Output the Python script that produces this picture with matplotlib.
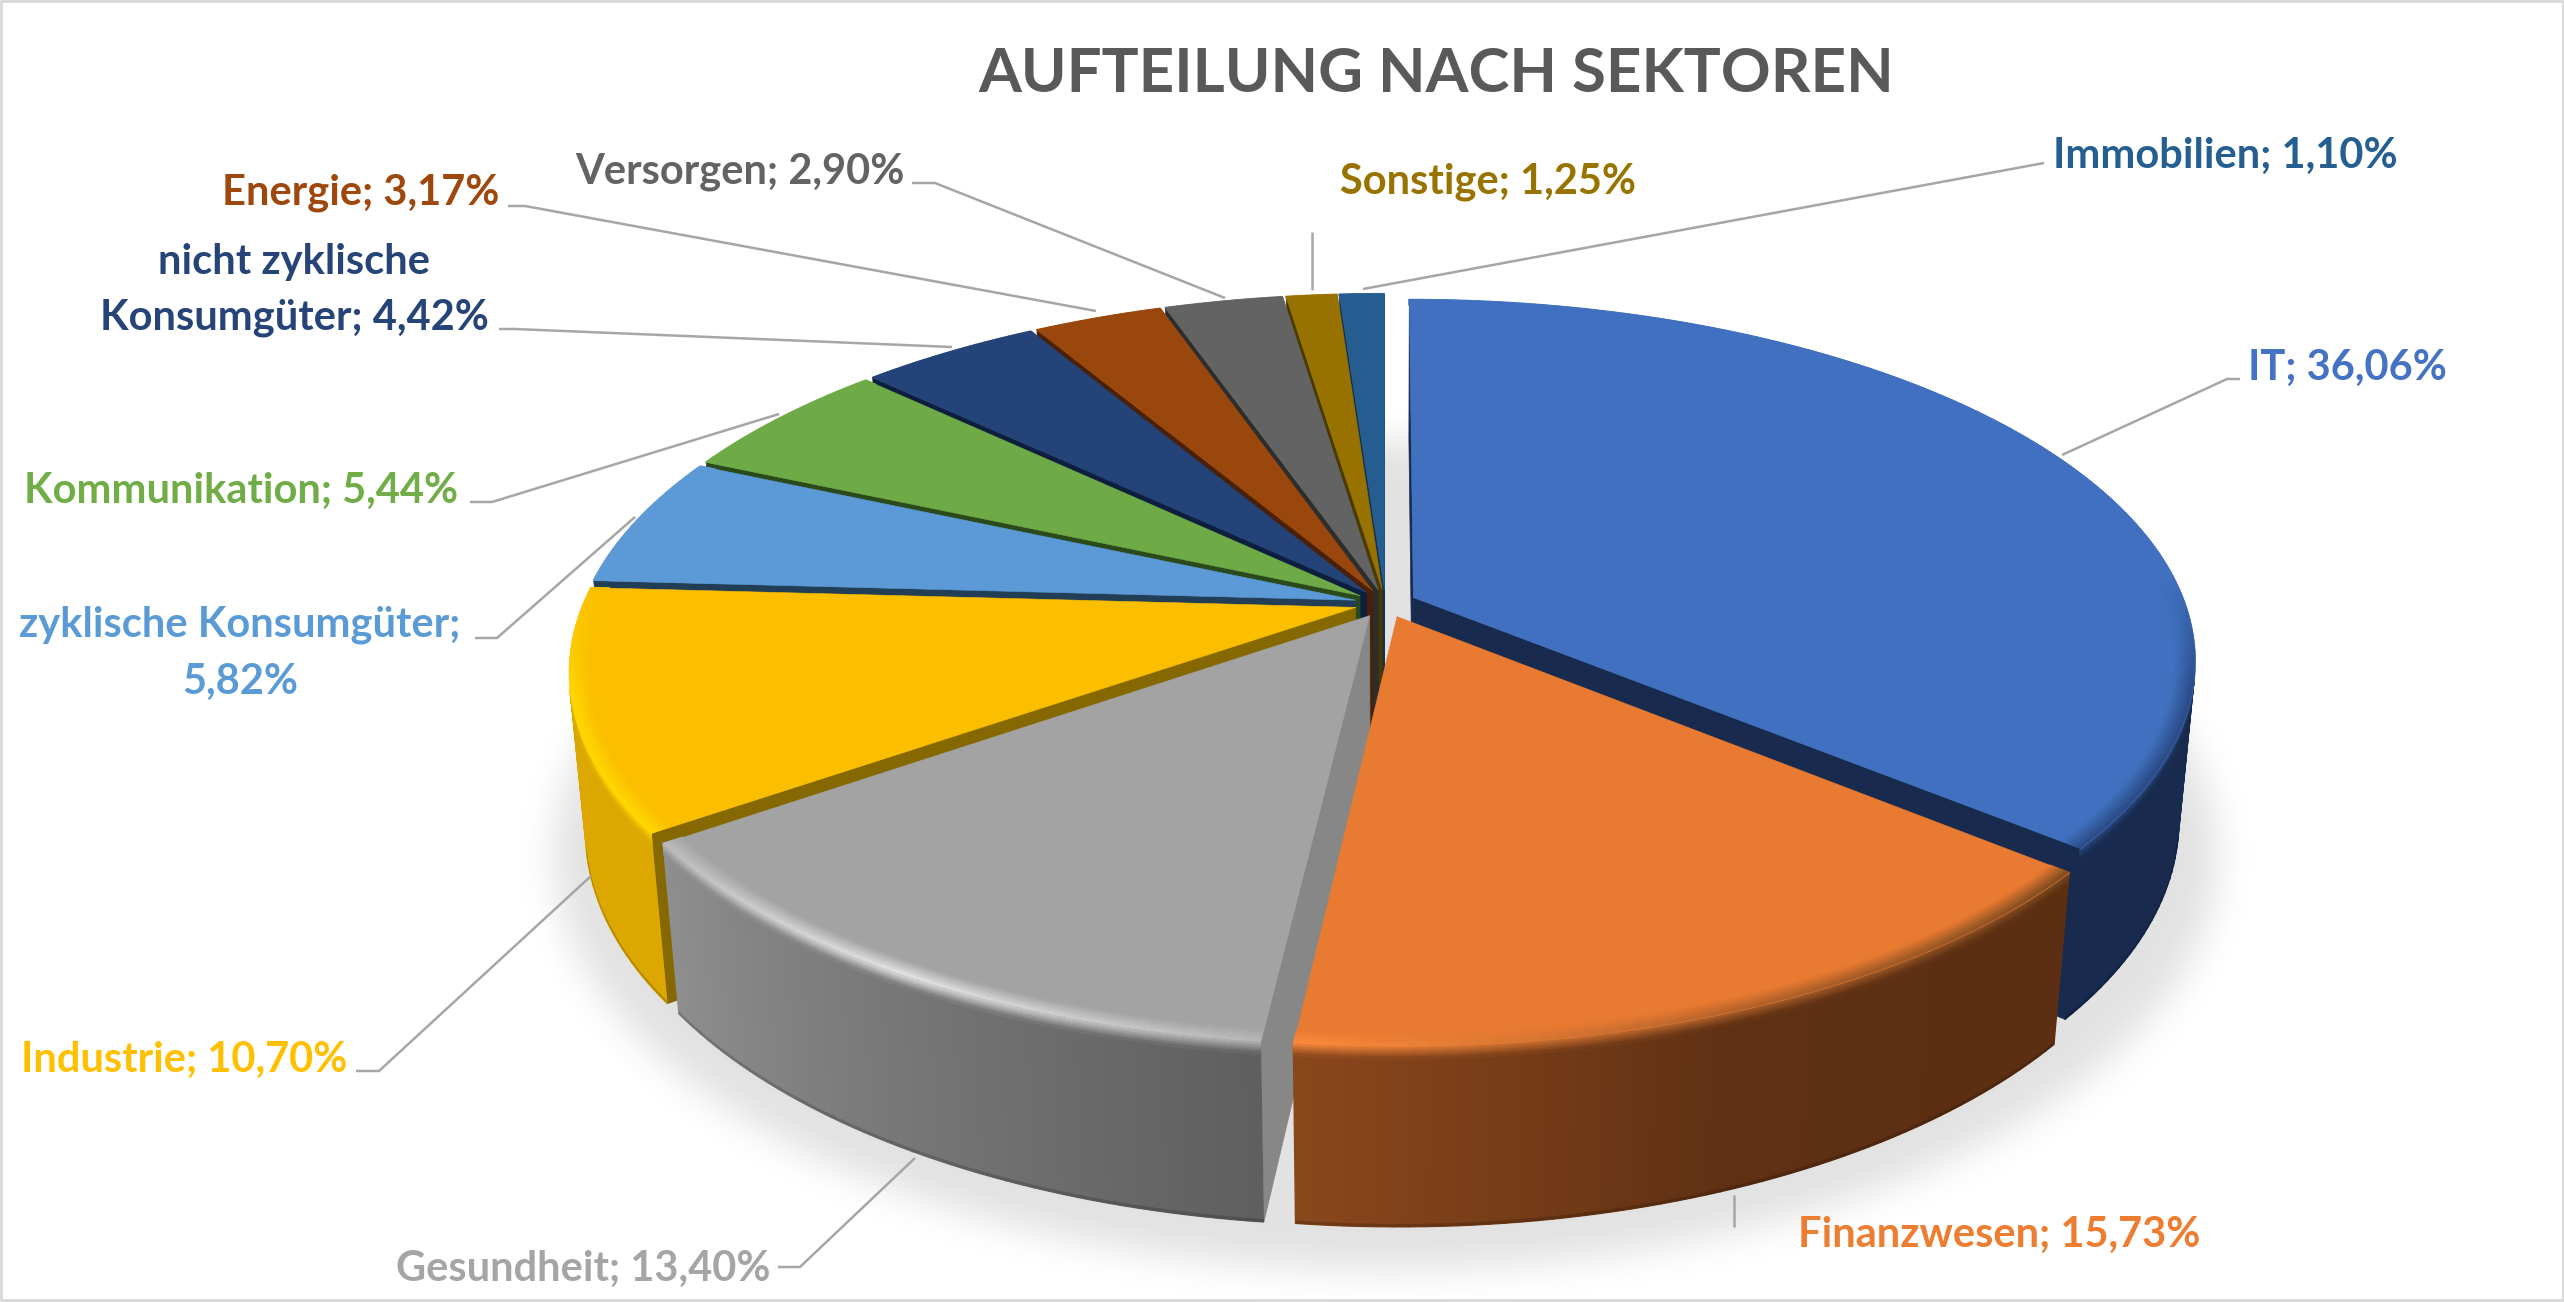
import numpy as np
import matplotlib
matplotlib.use('Agg')
import matplotlib.pyplot as plt
from matplotlib.collections import PolyCollection
from matplotlib.colors import to_rgb
from matplotlib.path import Path
from matplotlib.patches import Rectangle

plt.rcParams['font.family'] = ['Lato', 'DejaVu Sans']

title = 'AUFTEILUNG NACH SEKTOREN'
sectors = ['IT', 'Finanzwesen', 'Gesundheit', 'Industrie', 'zyklische Konsumgüter',
           'Kommunikation', 'nicht zyklische Konsumgüter', 'Energie', 'Versorgen',
           'Sonstige', 'Immobilien']
shares = [36.06, 15.73, 13.40, 10.70, 5.82, 5.44, 4.42, 3.17, 2.90, 1.25, 1.10]

top_colors = ['#4070BF', '#E97A31', '#A3A3A3', '#FBBF00', '#5B9AD6', '#6EAB46',
              '#234379', '#9A470D', '#636363', '#977200', '#255D91']
text_colors = ['#4472C4', '#ED7D31', '#A5A5A5', '#FFC000', '#5B9BD5', '#70AD47',
               '#264478', '#9E480E', '#636363', '#997300', '#255E91']
cut_colors = ['#182B4F', '#5C2F12', '#878787', '#856800', '#223E56', '#2A4A1C',
              '#0D1E3F', '#4A2108', '#2D2D2D', '#4A3A00', '#12304F']
# wall colour stops, running clockwise through each slice
wall_colors = [['#182B4F'], ['#5C2F12', '#5F3013', '#8A471C'], ['#5F5F5F', '#8E8E8E'],
               ['#DBA700'], ['#2E5C88'], ['#3F6A28'], ['#14294E'], ['#5F2C08'],
               ['#3C3C3C'], ['#5C4500'], ['#163858']]
# rim highlight stops
rim_colors = [['#2A4A84'], ['#7A4A20', '#B0602A', '#FF8C3C'], ['#B8B8B8', '#E6E6E6', '#BCBCBC'],
              ['#FFD800'], ['#5B9AD6'], ['#6EAB46'], ['#234379'], ['#9A470D'],
              ['#636363'], ['#977200'], ['#255D91']]

# text position (px), alignment
label_pos = [(2248, 368, 'left'), (1798, 1235, 'left'), (770, 1269, 'right'), (347, 1060, 'right'),
             (240, 0, 'center'), (458, 491, 'right'), (0, 0, 'right'), (499, 193, 'right'),
             (905, 172, 'right'), (1340, 182, 'left'), (2053, 156, 'left')]
leaders = [[(2062, 455), (2227, 379), (2240, 379)],
           [(1734, 1195), (1734, 1227)],
           [(915, 1158), (800, 1267), (778, 1267)],
           [(591, 876), (379, 1071), (356, 1071)],
           [(635, 517), (497, 638), (475, 638)],
           [(779, 414), (492, 502), (470, 502)],
           [(952, 347), (515, 329), (499, 329)],
           [(1096, 311), (525, 206), (508, 206)],
           [(1225, 298), (935, 183), (912, 183)],
           [(1312, 290), (1312, 232)],
           [(1363, 289), (2044, 163)]]

# perspective setup of the disc, in pixels
CX, CY = 1385, 603
A, B = 772, 351
K, M = 0.172, 0.02
H = 161
EXPLODE = 0.04


def project(u, v, z=0.0):
    w = 1 + K * v + M * z
    return CX + A * u / w, CY - B * v / w + H * z / w


def mix(c0, c1, t):
    c0, c1 = np.array(to_rgb(c0)), np.array(to_rgb(c1))
    return tuple(c0 + (c1 - c0) * t)


def stop_color(stops, t):
    if len(stops) == 1:
        return np.array(to_rgb(stops[0]))
    pos = t * (len(stops) - 1)
    i = min(int(pos), len(stops) - 2)
    return np.array(mix(stops[i], stops[i + 1], pos - i))


def signed_area(q):
    q = np.array(q)
    x, y = q[:, 0], q[:, 1]
    return np.sum(x * np.roll(y, -1) - np.roll(x, -1) * y)


def rim_visibility(t):
    # rim shows towards the front and sides, fades out on the back edge
    return np.clip((-np.cos(t) + 0.05) / 0.3, 0, 1)


fig = plt.figure(figsize=(25.64, 13.02), dpi=100)
ax = fig.add_axes([0, 0, 1, 1])

# soft floor shadow below the disc
step = 2
gx, gy = np.meshgrid(np.arange(0, 2564, step), np.arange(0, 1302, step))
th = np.radians(np.arange(0, 360, 1.0))
sx, sy = project(1.08 * np.sin(th), 1.08 * np.cos(th), 1.0)
mask = Path(np.column_stack([sx, sy + 18])).contains_points(np.column_stack([gx.ravel(), gy.ravel()]))
mask = mask.reshape(gx.shape).astype(float)
kx = np.arange(-30, 31)
kernel = np.exp(-kx ** 2 / (2 * 9.0 ** 2))
kernel /= kernel.sum()
mask = np.apply_along_axis(lambda r: np.convolve(r, kernel, mode='same'), 0, mask)
mask = np.apply_along_axis(lambda r: np.convolve(r, kernel, mode='same'), 1, mask)
ax.imshow(1 - 0.115 * mask, cmap='gray', vmin=0, vmax=1, extent=(0, 2564, 1302, 0),
          aspect='auto', zorder=1, interpolation='bilinear')

fractions = np.cumsum([0] + shares) / sum(shares)
order = np.argsort([-np.cos(np.pi * (fractions[i] + fractions[i + 1])) for i in range(len(shares))])


def add_quads(quads, colors, zorder, lw=1.0):
    if quads:
        ax.add_collection(PolyCollection(quads, facecolors=colors, edgecolors=colors,
                                         linewidths=lw, zorder=zorder))


zo = 2
for i in order:
    t0, t1 = 2 * np.pi * fractions[i], 2 * np.pi * fractions[i + 1]
    mid = (t0 + t1) / 2
    ou, ov = EXPLODE * np.sin(mid), EXPLODE * np.cos(mid)

    def pt(r, t, z=0.0):
        return project(ou + r * np.sin(t), ov + r * np.cos(t), z)

    # cut faces, only the ones turned to the viewer
    for t, sign in ((t0, -1), (t1, 1)):
        q = [pt(0, t), pt(1, t), pt(1, t, 1), pt(0, t, 1)]
        if signed_area(q) * sign > 0:
            add_quads([q], [cut_colors[i]], zo, lw=0.5)

    angles = np.linspace(t0, t1, max(3, int(np.degrees(t1 - t0)) + 1))
    top = np.array(to_rgb(top_colors[i]))
    steps = np.linspace(0, 1, 7)

    wall_q, wall_c, foot_q, foot_c, bevel_q, bevel_c = [], [], [], [], [], []
    ring_q, ring_c = [], []
    for a0, a1 in zip(angles[:-1], angles[1:]):
        frac = ((a0 + a1) / 2 - t0) / (t1 - t0)
        wall = stop_color(wall_colors[i], frac)
        rim = stop_color(rim_colors[i], frac)
        rim = top + (rim - top) * rim_visibility((a0 + a1) / 2)
        # blend from top colour to rim inside the edge
        for s0, s1 in zip(steps[:-1], steps[1:]):
            r0, r1 = 0.975 + 0.025 * s0, 0.975 + 0.025 * s1
            ring_q.append([pt(r0, a0), pt(r0, a1), pt(r1, a1), pt(r1, a0)])
            ring_c.append(top + (rim - top) * (s0 + s1) / 2)
        q = [pt(1, a0), pt(1, a1), pt(1, a1, 1), pt(1, a0, 1)]
        if signed_area(q) >= 0:
            continue
        wall_q.append(q)
        wall_c.append(wall)
        # darker line along the foot of the wall
        foot_q.append([pt(1, a0, 0.985), pt(1, a1, 0.985), pt(1, a1, 1), pt(1, a0, 1)])
        foot_c.append(wall * 0.82)
        # bevel from the wall up to the rim
        for s0, s1 in zip(steps[:-1], steps[1:]):
            z0, z1 = 0.07 * s0, 0.07 * s1
            bevel_q.append([pt(1, a0, z0), pt(1, a1, z0), pt(1, a1, z1), pt(1, a0, z1)])
            bevel_c.append(rim + (wall - rim) * (s0 + s1) / 2)
    add_quads(wall_q, wall_c, zo + 1)
    add_quads(foot_q, foot_c, zo + 1.1, lw=0.3)
    add_quads(bevel_q, bevel_c, zo + 1.2)

    # top face
    top_poly = [pt(0, t0)] + [pt(1, a) for a in angles]
    add_quads([top_poly], [top_colors[i]], zo + 2, lw=0.4)
    add_quads(ring_q, ring_c, zo + 3, lw=0.6)
    zo += 4

# leader lines
for line in leaders:
    xs, ys = zip(*line)
    ax.plot(xs, ys, color='#A6A6A6', lw=1.8, solid_capstyle='butt', zorder=zo)

# data labels
FS = 30
for i, name in enumerate(sectors):
    x, y, ha = label_pos[i]
    value = f'{shares[i]:.2f}'.replace('.', ',')
    if name == 'zyklische Konsumgüter':
        ax.text(240, 625, name + ';', color=text_colors[i], fontsize=FS, fontweight='bold',
                ha='center', va='center', zorder=zo)
        ax.text(240, 682, value + '%', color=text_colors[i], fontsize=FS, fontweight='bold',
                ha='center', va='center', zorder=zo)
    elif name == 'nicht zyklische Konsumgüter':
        ax.text(294, 262, 'nicht zyklische', color=text_colors[i], fontsize=FS, fontweight='bold',
                ha='center', va='center', zorder=zo)
        ax.text(294, 318, 'Konsumgüter; ' + value + '%', color=text_colors[i], fontsize=FS,
                fontweight='bold', ha='center', va='center', zorder=zo)
    else:
        ax.text(x, y, f'{name}; {value}%', color=text_colors[i], fontsize=FS, fontweight='bold',
                ha=ha, va='center', zorder=zo)

ax.text(1436, 74, title, color='#595959', fontsize=44.5, fontweight='bold',
        ha='center', va='center', zorder=zo)

ax.add_patch(Rectangle((1, 1), 2562, 1299, fill=False, edgecolor='#D9D9D9', lw=2, zorder=zo))
ax.set_xlim(0, 2564)
ax.set_ylim(1302, 0)
ax.axis('off')

fig.savefig('out.png', dpi=100)
